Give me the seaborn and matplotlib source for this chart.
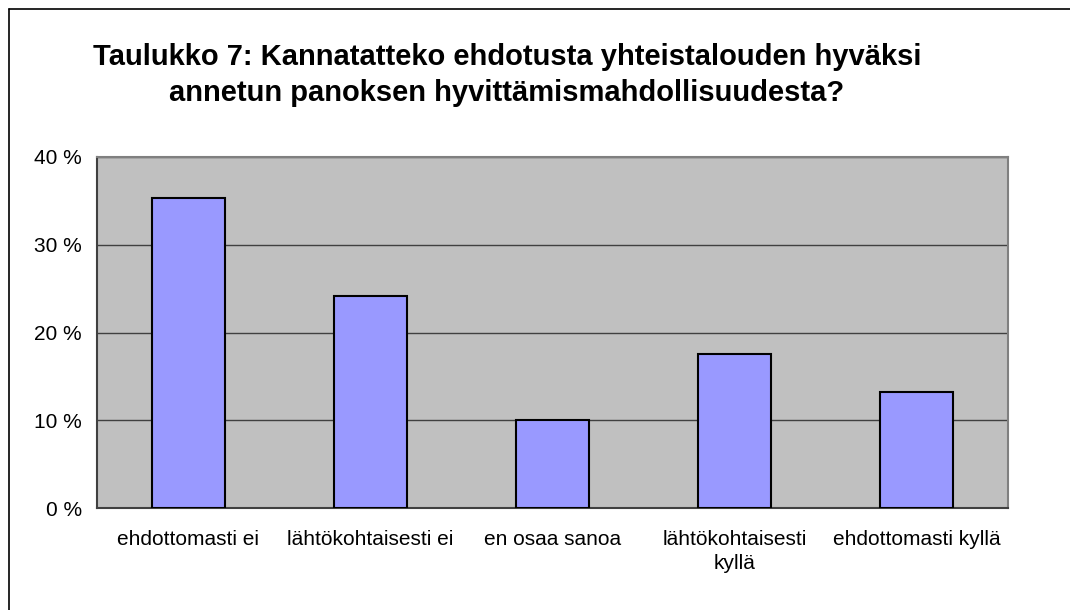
import matplotlib
matplotlib.use("Agg")
import matplotlib.pyplot as plt
from matplotlib.lines import Line2D
import seaborn as sns
import pandas as pd

categories = ["ehdottomasti ei", "lähtökohtaisesti ei", "en osaa sanoa",
              "lähtökohtaisesti\nkyllä", "ehdottomasti kyllä"]
shares = [35.3, 24.2, 10.0, 17.5, 13.2]
y_ticks = [0, 10, 20, 30, 40]
title_lines = ["Taulukko 7: Kannatatteko ehdotusta yhteistalouden hyväksi",
               "annetun panoksen hyvittämismahdollisuudesta?"]

sns.set_theme(style="white")
plt.rcParams['font.family'] = ['Liberation Sans', 'DejaVu Sans']
plt.rcParams['text.color'] = 'black'
plt.rcParams['xtick.color'] = 'black'
plt.rcParams['ytick.color'] = 'black'

df = pd.DataFrame({"kategoria": categories, "osuus": shares})

W, H = 1070, 610
fig = plt.figure(figsize=(W / 100, H / 100), dpi=100)
ax = fig.add_axes([97 / W, 102 / H, 911 / W, 351 / H])
ax.set_facecolor("#C0C0C0")

sns.barplot(data=df, x="kategoria", y="osuus", color="#9999FF",
            edgecolor="black", linewidth=1.5, width=0.4, saturation=1,
            ax=ax, zorder=3)

ax.set_ylim(0, 40)
ax.set_xlim(-0.5, len(categories) - 0.5)
ax.set_yticks(y_ticks)
ax.set_yticklabels([f"{v} %" for v in y_ticks], fontsize=15)
ax.set_xticks(range(len(categories)))
ax.set_xticklabels(categories, fontsize=15, linespacing=1.35)
ax.tick_params(axis="x", length=0, pad=16)
ax.tick_params(axis="y", length=5, width=1, color="#404040", direction="out", pad=6)
ax.set_xticks([i - 0.5 for i in range(len(categories) + 1)], minor=True)
ax.tick_params(axis="x", which="minor", length=6, width=1, color="#404040", direction="out")
ax.set_xlabel("")
ax.set_ylabel("")

ax.yaxis.grid(True, color="#404040", linewidth=1)
ax.set_axisbelow(True)
for side in ["top", "right"]:
    ax.spines[side].set_color("#808080")
    ax.spines[side].set_linewidth(1.5)
for side in ["left", "bottom"]:
    ax.spines[side].set_color("#404040")
    ax.spines[side].set_linewidth(1.5)

# two-line title, placed by baseline
fig.text(507 / W, 1 - 65 / H, title_lines[0], ha="center", va="baseline",
         fontsize=21, fontweight="bold")
fig.text(507 / W, 1 - 101 / H, title_lines[1], ha="center", va="baseline",
         fontsize=21, fontweight="bold")

# chart frame (only left and top edges are visible in the picture)
fig.add_artist(Line2D([8.5 / W, 8.5 / W], [0, 1 - 9 / H],
                      transform=fig.transFigure, color="black", linewidth=1.2))
fig.add_artist(Line2D([8.5 / W, 1], [1 - 9 / H, 1 - 9 / H],
                      transform=fig.transFigure, color="black", linewidth=1.2))

fig.savefig("out.png", dpi=100, facecolor="white")
